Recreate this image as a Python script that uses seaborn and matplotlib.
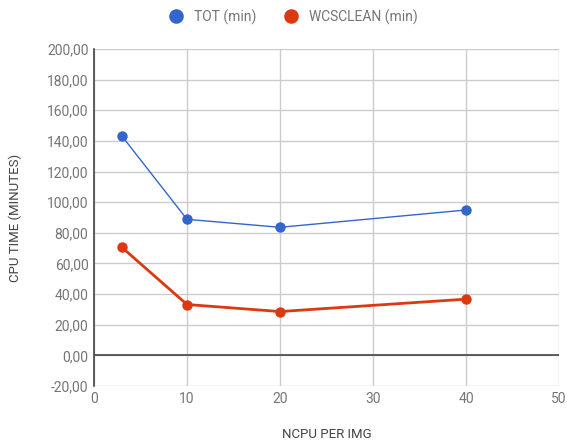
import matplotlib
matplotlib.use("Agg")
import matplotlib.pyplot as plt
import matplotlib.ticker as mticker
import seaborn as sns
import pandas as pd
from matplotlib.lines import Line2D

ncpu = [3, 10, 20, 40]
tot_min = [143.2, 88.8, 83.6, 94.9]
wcsclean_min = [70.5, 33.2, 28.6, 36.7]
series_names = ["TOT (min)", "WCSCLEAN (min)"]
colors = ["#3366CC", "#DC3912"]
x_ticks = [0, 10, 20, 30, 40, 50]
y_ticks = [-20, 0, 20, 40, 60, 80, 100, 120, 140, 160, 180, 200]

sns.set_style("white")
plt.rcParams['font.family'] = ['Roboto', 'DejaVu Sans']

df = pd.DataFrame({
    "x": ncpu * 2,
    "y": tot_min + wcsclean_min,
    "series": [series_names[0]] * len(ncpu) + [series_names[1]] * len(ncpu),
})

fig = plt.figure(figsize=(5.67, 4.42), dpi=100)
ax = fig.add_axes([94 / 567, 1 - 386 / 442, (559 - 94) / 567, (386 - 49) / 442])

for name, col, lw in zip(series_names, colors, [1.0, 2.0]):
    sub = df[df["series"] == name]
    sns.lineplot(data=sub, x="x", y="y", ax=ax, color=col, linewidth=lw,
                 marker="o", markersize=7.5, markeredgewidth=0, label=name,
                 zorder=3, legend=False)

ax.set_xlim(0, 50)
ax.set_ylim(-20, 200)
ax.set_xticks(x_ticks)
ax.set_yticks(y_ticks)
ax.yaxis.set_major_formatter(mticker.FuncFormatter(lambda v, p: f"{v:.2f}".replace(".", ",")))
ax.grid(True, color="#cccccc", linewidth=1)
ax.set_axisbelow(True)
ax.axhline(0, color="#444444", linewidth=1.2, zorder=2)
for s in ["top", "right", "bottom"]:
    ax.spines[s].set_visible(False)
ax.spines["left"].set_color("#444444")
ax.spines["left"].set_linewidth(1.2)
ax.tick_params(axis="both", length=0, labelsize=10, labelcolor="#757575", pad=4)
ax.set_xlabel("NCPU PER IMG", fontsize=9.5, color="#444444", va="center")
ax.set_ylabel("CPU TIME (MINUTES)", fontsize=9.5, color="#444444", va="center")
ax.xaxis.set_label_coords(0.5, -49 / 337)
ax.yaxis.set_label_coords(-79 / 465, 0.5)

handles = [Line2D([0], [0], marker="o", linestyle="", color=c, markersize=10.5, markeredgewidth=0)
           for c in colors]
fig.legend(handles, series_names, loc="center", bbox_to_anchor=(290 / 567, 1 - 17 / 442),
           ncol=2, frameon=False, fontsize=10, labelcolor="#757575",
           handletextpad=0.3, columnspacing=1.5)

fig.savefig("out.png", dpi=100)
